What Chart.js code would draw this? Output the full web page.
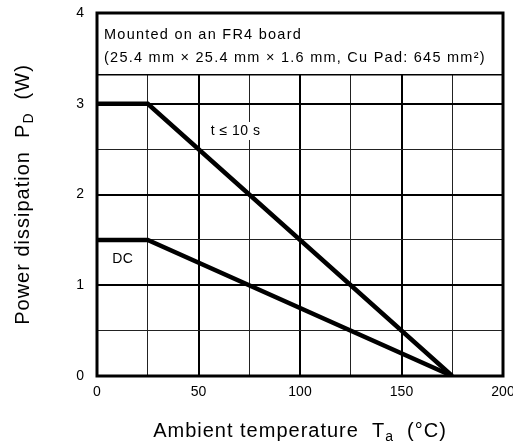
<!DOCTYPE html>
<html>
<head>
<meta charset="utf-8">
<script src="https://cdn.jsdelivr.net/npm/chart.js@4"></script>
<style>
  body { margin: 0; background: #fff; }
</style>
</head>
<body>
<canvas id="chart" width="513" height="448"></canvas>
<script>
// Derating curve data
const temps = [0, 25, 175];
const pulsePower = [3, 3, 0];   // t <= 10 s
const dcPower = [1.5, 1.5, 0];  // DC
const seriesNames = ['t ≤ 10 s', 'DC'];
const xTicks = [0, 50, 100, 150, 200];
const yTicks = [0, 1, 2, 3, 4];
const boardNote = ['Mounted on an FR4 board', '(25.4 mm × 25.4 mm × 1.6 mm, Cu Pad: 645 mm²)'];
const noteBoxBottom = 3.32; // note box covers the top of the grid

const FONT = "'Liberation Sans', Arial, sans-serif";

// draw a run of text pieces, some of them subscript, centred on x
function drawParts(ctx, parts, x, y, size) {
    let total = 0;
    parts.forEach(p => {
        ctx.font = (p.sub ? size * 0.7 : size) + 'px ' + FONT;
        total += ctx.measureText(p.t).width;
    });
    let cx = x - total / 2;
    parts.forEach(p => {
        ctx.font = (p.sub ? size * 0.7 : size) + 'px ' + FONT;
        ctx.fillText(p.t, cx, p.sub ? y + size * 0.32 : y);
        cx += ctx.measureText(p.t).width;
    });
}

const decor = {
    id: 'decor',
    beforeDatasetsDraw(chart) {
        const { ctx, chartArea: a, scales: { x, y } } = chart;
        const yb = y.getPixelForValue(noteBoxBottom);
        ctx.save();
        // white box for the mounting note
        ctx.fillStyle = '#fff';
        ctx.fillRect(a.left, a.top, a.right - a.left, yb - a.top);
        ctx.strokeStyle = '#000';
        ctx.lineWidth = 1.5;
        ctx.beginPath();
        ctx.moveTo(a.left, yb);
        ctx.lineTo(a.right, yb);
        ctx.stroke();
        ctx.fillStyle = '#000';
        ctx.font = '14.5px ' + FONT;
        ctx.letterSpacing = '1.25px';
        ctx.textBaseline = 'middle';
        ctx.textAlign = 'left';
        ctx.fillText(boardNote[0], a.left + 7, a.top + 22);
        ctx.fillText(boardNote[1], a.left + 7, a.top + 45);
        // curve labels, the pulse one sits on a white patch over the grid
        ctx.font = '14px ' + FONT;
        ctx.letterSpacing = '0.5px';
        const lx = x.getPixelForValue(56), ly = y.getPixelForValue(2.7);
        const w = ctx.measureText(seriesNames[0]).width;
        ctx.fillStyle = '#fff';
        ctx.fillRect(lx - 2, ly - 9, w + 4, 18);
        ctx.fillStyle = '#000';
        ctx.fillText(seriesNames[0], lx, ly);
        ctx.fillText(seriesNames[1], x.getPixelForValue(7.5), y.getPixelForValue(1.29));
        ctx.restore();
    },
    afterDraw(chart) {
        const { ctx, chartArea: a } = chart;
        ctx.save();
        // plot frame
        ctx.strokeStyle = '#000';
        ctx.lineWidth = 3;
        ctx.strokeRect(a.left, a.top, a.right - a.left, a.bottom - a.top);
        // axis titles with subscripts
        ctx.fillStyle = '#000';
        ctx.textBaseline = 'middle';
        ctx.textAlign = 'left';
        ctx.letterSpacing = '1px';
        drawParts(ctx, [
            { t: 'Ambient temperature  T' }, { t: 'a', sub: true }, { t: '  (°C)' }
        ], (a.left + a.right) / 2, 431, 20);
        ctx.translate(23, (a.top + a.bottom) / 2);
        ctx.rotate(-Math.PI / 2);
        drawParts(ctx, [
            { t: 'Power dissipation  P' }, { t: 'D', sub: true }, { t: '  (W)' }
        ], 0, 0, 20);
        ctx.restore();
    }
};

const ctx = document.getElementById('chart').getContext('2d');
new Chart(ctx, {
    type: 'line',
    data: {
        datasets: [
            {
                label: seriesNames[0],
                data: temps.map((t, i) => ({ x: t, y: pulsePower[i] })),
                borderColor: '#000',
                borderWidth: 4.5,
                pointRadius: 0,
                fill: false
            },
            {
                label: seriesNames[1],
                data: temps.map((t, i) => ({ x: t, y: dcPower[i] })),
                borderColor: '#000',
                borderWidth: 4.5,
                pointRadius: 0,
                fill: false
            }
        ]
    },
    options: {
        responsive: false,
        animation: false,
        layout: { padding: { top: 13, right: 10, left: 0, bottom: 0 } },
        plugins: { legend: { display: false }, tooltip: { enabled: false } },
        scales: {
            x: {
                type: 'linear',
                min: 0,
                max: 200,
                afterFit: s => { s.height = 72; s.paddingLeft = 0; s.paddingRight = 0; },
                ticks: {
                    stepSize: 25,
                    autoSkip: false,
                    maxRotation: 0,
                    padding: 8,
                    color: '#000',
                    font: { family: FONT, size: 14 },
                    callback: v => xTicks.includes(v) ? String(v) : ''
                },
                grid: {
                    drawTicks: false,
                    color: ctx => ctx.tick && ctx.tick.value % 50 === 0 ? '#000' : '#222',
                    lineWidth: ctx => ctx.tick && ctx.tick.value % 50 === 0 ? 2 : 1
                },
                border: { display: false }
            },
            y: {
                min: 0,
                max: 4,
                afterFit: s => { s.width = 97; s.paddingTop = 0; s.paddingBottom = 0; },
                ticks: {
                    stepSize: 0.5,
                    autoSkip: false,
                    padding: 13,
                    color: '#000',
                    font: { family: FONT, size: 14 },
                    callback: v => yTicks.includes(v) ? String(v) : ''
                },
                grid: {
                    drawTicks: false,
                    color: ctx => ctx.tick && ctx.tick.value % 1 === 0 ? '#000' : '#222',
                    lineWidth: ctx => ctx.tick && ctx.tick.value % 1 === 0 ? 2 : 1
                },
                border: { display: false }
            }
        }
    },
    plugins: [decor]
});
</script>
</body>
</html>
